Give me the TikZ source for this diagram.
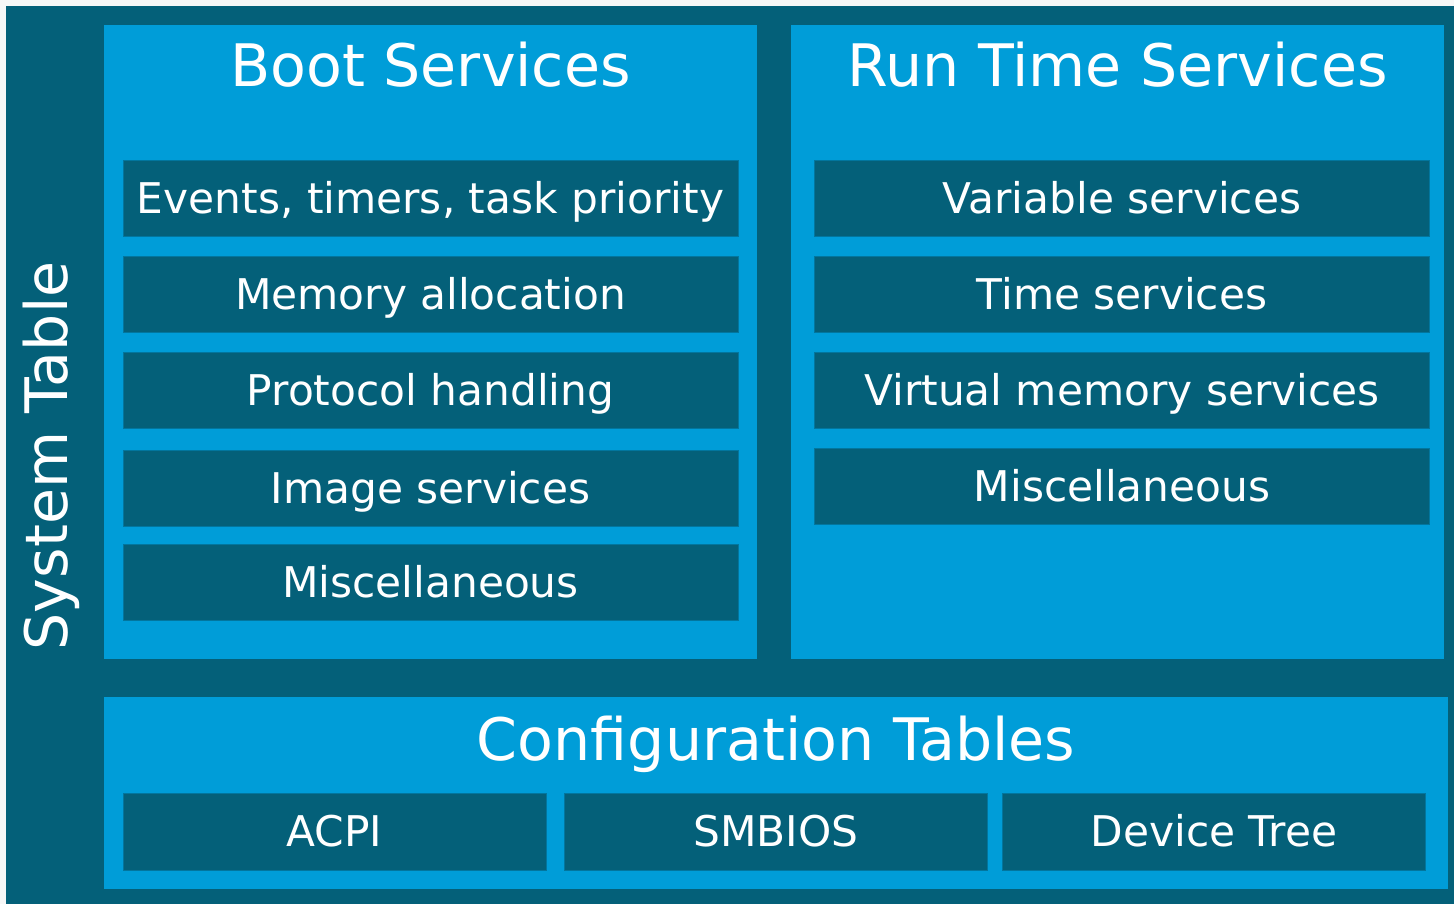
\documentclass[tikz,border=0pt]{standalone}
\usepackage{fontspec}
\setmainfont{DejaVu Sans}
\definecolor{uefidark}{RGB}{4,96,121}
\definecolor{uefilight}{RGB}{0,157,216}
\definecolor{uefiedge}{RGB}{2,118,158}

\begin{document}
\begin{tikzpicture}[x=0.5pt,y=-0.5pt]
\tikzstyle{title} = [anchor=base,text=white,inner sep=0pt,font=\fontsize{29.3}{34}\selectfont]
\tikzstyle{item} = [fill=uefidark,draw=uefiedge,line width=0.5pt,text=white,inner sep=0pt,
  minimum height=38pt,text height=15.4pt,text depth=0pt,font=\fontsize{21.15}{25}\selectfont]
\tikzstyle{wide item} = [item,minimum width=307.5pt]
\tikzstyle{table item} = [item,minimum width=211.5pt,minimum height=38.5pt]

\coordinate (O)  at (0,0);
\coordinate (E)  at (1454,904);

\useasboundingbox (O) rectangle (E);
\fill[white!97!black] (O) rectangle (E);
\fill[uefidark] (6,6) rectangle (E);

% panels
\fill[uefilight] (104,25) rectangle (757,659);
\fill[uefilight] (791,25) rectangle (1444,659);
\fill[uefilight] (104,697) rectangle (1448,889);

\node[title,rotate=90] (systab) at (67,456) {System Table};
\node[title] (boot) at (430.5,87) {Boot Services};
\node[title] (runtime) at (1117.5,87) {Run Time Services};
\node[title] (config) at (776,760) {Configuration Tables};

\node[wide item] (events) at (430.5,198) {Events, timers, task priority};
\node[wide item] (memory) at (430.5,294) {Memory allocation};
\node[wide item] (protocol) at (430.5,390) {Protocol handling};
\node[wide item] (image) at (430.5,488) {Image services};
\node[wide item] (bootmisc) at (430.5,582) {Miscellaneous};

\node[wide item] (variable) at (1122,198) {Variable services};
\node[wide item] (time) at (1122,294) {Time services};
\node[wide item] (virtual) at (1122,390) {Virtual memory services};
\node[wide item] (rtmisc) at (1122,486) {Miscellaneous};

\node[table item] (acpi) at (334.5,831.5) {ACPI};
\node[table item] (smbios) at (776,831.5) {SMBIOS};
\node[table item] (devtree) at (1214,831.5) {Device Tree};

\end{tikzpicture}
\end{document}
